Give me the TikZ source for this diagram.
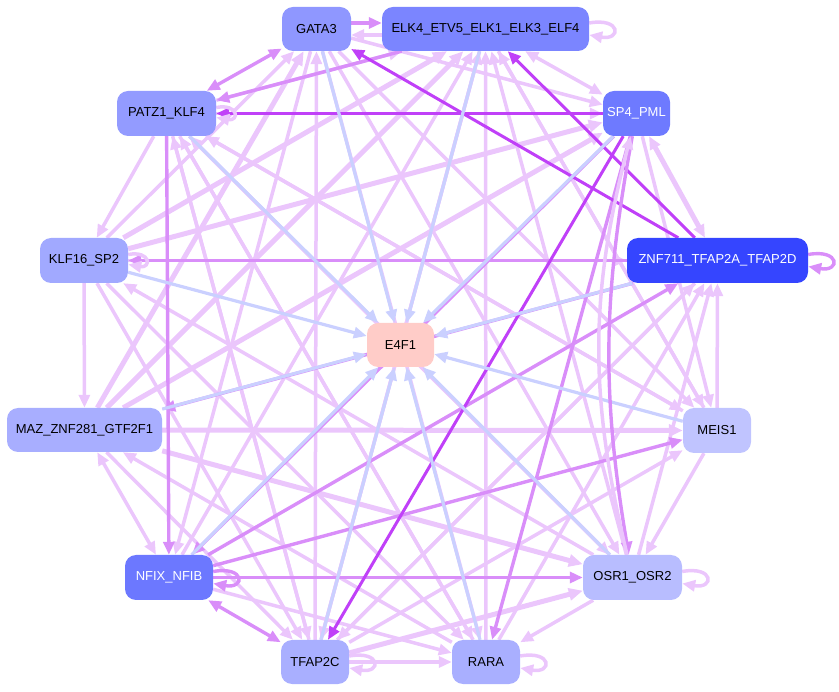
\documentclass[tikz,border=0pt]{standalone}
\usepackage{fontspec}
\setmainfont{Liberation Sans}
\usetikzlibrary{arrows.meta,backgrounds}
\definecolor{edgelt}{HTML}{EBC6FC}
\definecolor{edgemd}{HTML}{D98EF9}
\definecolor{edgedk}{HTML}{C040F8}
\definecolor{edgebl}{HTML}{CAD0FF}
\begin{document}
\begin{tikzpicture}[x=1pt,y=-1pt,
    tf/.style={rounded corners=11pt,inner sep=0pt,font=\fontsize{13}{15}\selectfont},
    lt/.style={edgelt,line width=3.5pt,-{Triangle[length=13pt,width=11pt]}},
    th/.style={edgelt,line width=5pt,-{Triangle[length=14pt,width=12pt]}},
    md/.style={edgemd,line width=3.4pt,-{Triangle[length=13pt,width=11pt]}},
    dk/.style={edgedk,line width=3pt,-{Triangle[length=13pt,width=11pt]}},
    bl/.style={edgebl,line width=3.2pt,-{Triangle[length=13pt,width=11pt]}},
    both/.style={{Triangle[length=13pt,width=11pt]}-{Triangle[length=13pt,width=11pt]}}]
  \useasboundingbox (0,0) rectangle (839,692);
  \node[tf,fill={rgb,255:red,143;green,151;blue,255},minimum width=69pt,minimum height=44pt] (g) at (316.5,29) {GATA3};
  \node[tf,fill={rgb,255:red,123;green,133;blue,255},minimum width=207pt,minimum height=44pt] (e) at (485.5,29) {ELK4\_ETV5\_ELK1\_ELK3\_ELF4};
  \node[tf,fill={rgb,255:red,110;green,122;blue,255},text=white,minimum width=67pt,minimum height=45pt] (s) at (636.5,113.5) {SP4\_PML};
  \node[tf,fill={rgb,255:red,53;green,69;blue,255},text=white,minimum width=181pt,minimum height=45pt] (z) at (717.5,260.5) {ZNF711\_TFAP2A\_TFAP2D};
  \node[tf,fill={rgb,255:red,192;green,196;blue,255},minimum width=68pt,minimum height=45pt] (m) at (717,430.5) {MEIS1};
  \node[tf,fill={rgb,255:red,184;green,189;blue,255},minimum width=99pt,minimum height=45pt] (o) at (632.5,577.5) {OSR1\_OSR2};
  \node[tf,fill={rgb,255:red,169;green,175;blue,255},minimum width=68pt,minimum height=44pt] (r) at (486,662) {RARA};
  \node[tf,fill={rgb,255:red,169;green,175;blue,255},minimum width=68pt,minimum height=44pt] (t) at (315,662) {TFAP2C};
  \node[tf,fill={rgb,255:red,108;green,120;blue,255},text=white,minimum width=88pt,minimum height=45pt] (n) at (169,577.5) {NFIX\_NFIB};
  \node[tf,fill={rgb,255:red,168;green,174;blue,255},minimum width=155pt,minimum height=44pt] (a) at (84.5,430) {MAZ\_ZNF281\_GTF2F1};
  \node[tf,fill={rgb,255:red,161;green,169;blue,255},minimum width=88pt,minimum height=45pt] (k) at (84,260.5) {KLF16\_SP2};
  \node[tf,fill={rgb,255:red,147;green,155;blue,255},minimum width=99pt,minimum height=45pt] (p) at (166.5,113.5) {PATZ1\_KLF4};
  \node[tf,fill={rgb,255:red,255;green,204;blue,200},minimum width=67pt,minimum height=44pt] (c) at (400.5,345) {E4F1};
  \begin{scope}[on background layer]
    \foreach \u/\v in {g/s,g/m,g/o,g/r,p/e,p/s,m/z,t/z,o/z,r/z,k/z,k/g,t/g,n/e,t/e,r/e,o/e,m/e,e/m,k/a,k/r,k/t,o/k,p/k,p/t,p/r,p/m,p/o,r/p,o/p,m/p,t/p,t/r,n/r,o/r,m/o,t/m,s/m,r/a,a/t,e/t,z/t,g/n}
      \draw[lt] (\u) -- (\v);
    \foreach \u/\v in {a/g,a/e,k/e,a/m,a/o,a/s,k/s,t/o}
      \draw[th] (\u) -- (\v);
    \foreach \u/\v in {e/p,z/a,s/n,n/o,n/m,p/n,z/k,s/r,n/z}
      \draw[md] (\u) -- (\v);
    \foreach \u/\v in {z/g,z/e,s/p,s/t}
      \draw[dk] (\u) -- (\v);
    \foreach \u in {g,e,s,z,m,o,r,t,n,a,k,p}
      \draw[bl] (\u) -- (c);
    \draw[md,both] (g) -- (p);
    \draw[md,both] (n) -- (t);
    \draw[lt,both] (e) -- (s);
    \draw[th,both] (s) -- (z);
    \draw[lt,both] (a) -- (n);
    \draw[md] ([yshift=6pt]g.east) -- ([yshift=6pt]e.west);
    \draw[lt] ([yshift=-6pt]e.west) -- ([yshift=-6pt]g.east);
    \draw[md] (s) to[bend right=10] (o);
    \draw[lt] (o) to[bend left=14] (s);
    \draw[lt] ([yshift=6pt]e.east) to[out=10,in=-10,looseness=7] ([yshift=-6pt]e.east);
    \draw[md] ([yshift=6pt]z.east) to[out=10,in=-10,looseness=7] ([yshift=-6pt]z.east);
    \draw[md] ([yshift=6pt]n.east) to[out=10,in=-10,looseness=7] ([yshift=-6pt]n.east);
    \draw[lt] ([yshift=6pt]o.east) to[out=10,in=-10,looseness=7] ([yshift=-6pt]o.east);
    \draw[lt] ([yshift=6pt]r.east) to[out=10,in=-10,looseness=7] ([yshift=-6pt]r.east);
    \draw[lt] ([yshift=6pt]t.east) to[out=10,in=-10,looseness=7] ([yshift=-6pt]t.east);
    \draw[lt] ([yshift=6pt]k.east) to[out=10,in=-10,looseness=6] ([yshift=-4pt]k.east);
    \draw[lt] ([yshift=6pt]p.east) to[out=10,in=-10,looseness=6] ([yshift=-4pt]p.east);
  \end{scope}
\end{tikzpicture}
\end{document}
